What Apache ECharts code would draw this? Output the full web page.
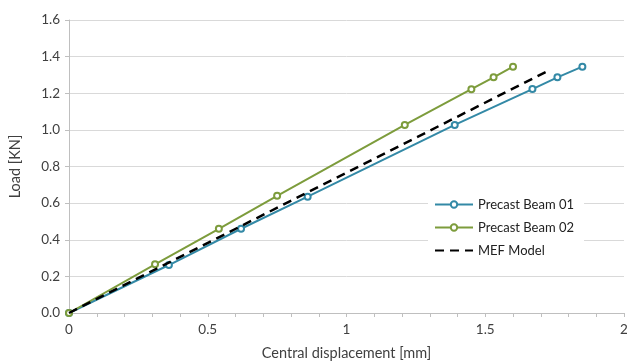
<!DOCTYPE html>
<html>
<head>
<meta charset="utf-8">
<script src="https://cdn.jsdelivr.net/npm/echarts@6/dist/echarts.min.js"></script>
<style>
  html, body { margin: 0; padding: 0; background: #fff; }
  #mainChart { width: 627px; height: 363px; }
</style>
</head>
<body>
<div id="mainChart"></div>
<script>
// data
const beam01X = [0, 0.36, 0.62, 0.86, 1.39, 1.67, 1.76, 1.85]
const beam01Y = [0, 0.262, 0.46, 0.635, 1.027, 1.223, 1.287, 1.345]
const beam02X = [0, 0.31, 0.54, 0.75, 1.21, 1.45, 1.53, 1.6]
const beam02Y = [0, 0.266, 0.46, 0.64, 1.027, 1.222, 1.287, 1.345]
const mefX = [0, 1.73]
const mefY = [0, 1.325]
const seriesNames = ['Precast Beam 01', 'Precast Beam 02', 'MEF Model']

const pairs = (xs, ys) => xs.map((x, i) => [x, ys[i]])

const font = 'Lato, "Noto Sans", sans-serif'
const textColor = '#404040'

let myChart = echarts.init(document.getElementById('mainChart'))
const option = {
  animation: false,
  grid: {left: 69, right: 3, top: 20, bottom: 50, containLabel: false, outerBoundsMode: 'none'},
  legend: {
    orient: 'vertical',
    left: 428,
    top: 196,
    itemWidth: 38,
    itemHeight: 8,
    itemGap: 10,
    padding: [2, 10, 2, 6],
    backgroundColor: '#fff',
    data: [
      {name: seriesNames[0]},
      {name: seriesNames[1]},
      {name: seriesNames[2], itemStyle: {opacity: 0}},
    ],
    textStyle: {fontFamily: font, fontSize: 13, color: '#222'},
  },
  xAxis: {
    type: 'value',
    min: 0,
    max: 2,
    interval: 0.5,
    name: 'Central displacement [mm]',
    nameLocation: 'middle',
    nameGap: 33,
    nameTextStyle: {fontFamily: font, fontSize: 14.5, color: textColor},
    axisLine: {show: true, lineStyle: {color: '#bfbfbf', width: 1}},
    axisTick: {show: true, length: 4, lineStyle: {color: '#bfbfbf'}},
    minorTick: {show: true, splitNumber: 5, length: 4, lineStyle: {color: '#bfbfbf'}},
    axisLabel: {fontFamily: font, fontSize: 13.5, color: textColor, margin: 10},
    splitLine: {show: false},
  },
  yAxis: {
    type: 'value',
    min: 0,
    max: 1.6,
    interval: 0.2,
    name: 'Load [KN]',
    nameLocation: 'middle',
    nameGap: 46,
    nameTextStyle: {fontFamily: font, fontSize: 14.5, color: textColor},
    axisLine: {show: true, lineStyle: {color: '#bfbfbf', width: 1}},
    axisTick: {show: true, length: 4, lineStyle: {color: '#bfbfbf'}},
    axisLabel: {
      fontFamily: font,
      fontSize: 13.5,
      color: textColor,
      margin: 9,
      formatter: (v) => v.toFixed(1),
    },
    splitLine: {show: true, lineStyle: {color: '#d9d9d9', width: 1}},
  },
  series: [
    {
      name: seriesNames[0],
      type: 'line',
      data: pairs(beam01X, beam01Y),
      symbol: 'emptyCircle',
      symbolSize: 6,
      lineStyle: {color: '#3389a6', width: 2},
      itemStyle: {color: '#3389a6', borderWidth: 1.2},
      z: 3,
    },
    {
      name: seriesNames[1],
      type: 'line',
      data: pairs(beam02X, beam02Y),
      symbol: 'emptyCircle',
      symbolSize: 6,
      lineStyle: {color: '#7d9c3c', width: 2},
      itemStyle: {color: '#7d9c3c', borderWidth: 1.2},
      z: 4,
    },
    {
      name: seriesNames[2],
      type: 'line',
      data: pairs(mefX, mefY),
      symbol: 'none',
      lineStyle: {color: '#000', width: 2.5, type: [9, 6]},
      itemStyle: {color: '#000'},
      z: 5,
    },
  ],
}
myChart.setOption(option)
</script>
</body>
</html>
